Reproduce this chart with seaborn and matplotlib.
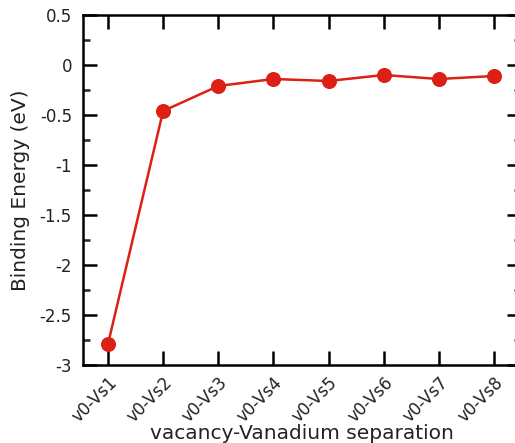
import matplotlib
matplotlib.use("Agg")
import matplotlib.pyplot as plt
from matplotlib.ticker import MultipleLocator
import numpy as np
import pandas as pd
import seaborn as sns

# Binding energy of a vacancy-vanadium pair versus separation shell
separations = ["v0-Vs1", "v0-Vs2", "v0-Vs3", "v0-Vs4",
               "v0-Vs5", "v0-Vs6", "v0-Vs7", "v0-Vs8"]
binding_energy = [-2.79, -0.46, -0.21, -0.14, -0.16, -0.10, -0.14, -0.11]
ytick_labels = ["-3", "-2.5", "-2", "-1.5", "-1", "-0.5", "0", "0.5"]

df = pd.DataFrame({
    "pos": np.arange(1, len(separations) + 1),
    "label": separations,
    "energy": binding_energy,
})

sns.set_style("ticks")
plt.rcParams["font.family"] = ["DejaVu Sans"]

W, H = 515, 443
fig = plt.figure(figsize=(W / 100, H / 100), dpi=100)
ax = fig.add_axes([83 / W, (H - 365) / H, (521 - 83) / W, 350 / H])

red = "#dc2014"
sns.lineplot(data=df, x="pos", y="energy", ax=ax, color=red, linewidth=1.8,
             marker="o", markersize=10, markeredgecolor=red, markeredgewidth=0.8)

ax.set_xlim(0.547, 8.49)
ax.set_ylim(-3, 0.5)
ax.set_xticks(df["pos"])
ax.set_xticklabels(df["label"], rotation=45, ha="right", rotation_mode="anchor")
ax.set_yticks(np.arange(-3, 0.51, 0.5))
ax.set_yticklabels(ytick_labels)
ax.yaxis.set_minor_locator(MultipleLocator(0.25))

for s in ax.spines.values():
    s.set_linewidth(1.8)
    s.set_color("black")

ax.tick_params(axis="both", which="major", direction="in", length=10, width=1.8,
               labelsize=12, top=True, right=True, colors="black",
               labelcolor="#222222")
ax.tick_params(axis="y", which="minor", direction="in", length=5, width=1.8,
               left=True, right=True)
ax.tick_params(axis="x", which="minor", bottom=False, top=False)
ax.tick_params(axis="x", which="major", pad=6)
ax.tick_params(axis="y", which="major", pad=8)

ax.set_xlabel("vacancy-Vanadium separation", fontsize=14.5, color="#222222", labelpad=-1)
ax.set_ylabel("Binding Energy (eV)", fontsize=14.5, color="#222222", labelpad=7)

fig.savefig("out.png", dpi=100)
